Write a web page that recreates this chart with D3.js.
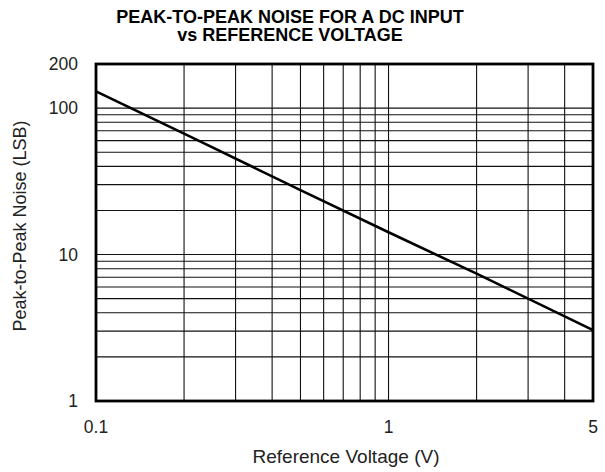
<!DOCTYPE html>
<html>
<head>
<meta charset="utf-8">
<script src="https://cdn.jsdelivr.net/npm/d3@7"></script>
<style>
  body { margin: 0; background: #fff; }
  text { font-family: "Liberation Sans", Arial, sans-serif; fill: #222; }
</style>
</head>
<body>
<div id="chart"></div>
<script>
// data
var voltage = [0.1, 0.2, 0.5, 1, 2, 5];
var noise = [130, 67, 27.5, 14.2, 7.4, 3.05];
var xTicks = [0.1, 1, 5];
var yTicks = [1, 10, 100, 200];
var xGrid = [0.2, 0.3, 0.4, 0.5, 0.6, 0.7, 0.8, 0.9, 1, 2, 3, 4];
var yGrid = [2, 3, 4, 5, 6, 7, 8, 9, 10, 20, 30, 40, 50, 60, 70, 80, 90, 100];

var svgWidth = 605;
var svgHeight = 472;
var margin = { top: 64, right: 12, bottom: 71, left: 96 };
var width = svgWidth - margin.left - margin.right;
var height = svgHeight - margin.top - margin.bottom;

var svg = d3.select("#chart").append("svg")
  .attr("width", svgWidth)
  .attr("height", svgHeight);

var chartGroup = svg.append("g")
  .attr("transform", `translate(${margin.left}, ${margin.top})`);

var x = d3.scaleLog().domain([0.1, 5]).range([0, width]);
var y = d3.scaleLog().domain([1, 200]).range([height, 0]);

// grid
chartGroup.selectAll(".vgrid").data(xGrid).enter().append("line")
  .attr("x1", d => x(d)).attr("x2", d => x(d))
  .attr("y1", 0).attr("y2", height)
  .attr("stroke", "#111").attr("stroke-width", 1.1);

chartGroup.selectAll(".hgrid").data(yGrid).enter().append("line")
  .attr("y1", d => y(d)).attr("y2", d => y(d))
  .attr("x1", 0).attr("x2", width)
  .attr("stroke", "#111").attr("stroke-width", 1.1);

// frame
chartGroup.append("rect")
  .attr("width", width).attr("height", height)
  .attr("fill", "none").attr("stroke", "#000").attr("stroke-width", 2.8);

// curve
var line = d3.line().x((d, i) => x(voltage[i])).y(d => y(d));
chartGroup.append("path")
  .datum(noise)
  .attr("d", line)
  .attr("fill", "none")
  .attr("stroke", "#000")
  .attr("stroke-width", 2.6);

// tick labels
chartGroup.selectAll(".xt").data(xTicks).enter().append("text")
  .attr("x", d => x(d)).attr("y", height + 32)
  .attr("text-anchor", "middle")
  .style("font-size", "17.5px")
  .text(d => d);

chartGroup.selectAll(".yt").data(yTicks).enter().append("text")
  .attr("x", -18).attr("y", d => y(d) + 6)
  .attr("text-anchor", "end")
  .style("font-size", "17.5px")
  .text(d => d);

// titles
svg.append("text")
  .attr("x", 290).attr("y", 23)
  .attr("text-anchor", "middle")
  .style("font-size", "18px").style("font-weight", "bold").style("fill", "#000")
  .text("PEAK-TO-PEAK NOISE FOR A DC INPUT");
svg.append("text")
  .attr("x", 290).attr("y", 41)
  .attr("text-anchor", "middle")
  .style("font-size", "18px").style("font-weight", "bold").style("fill", "#000")
  .text("vs REFERENCE VOLTAGE");

svg.append("text")
  .attr("x", 346).attr("y", 463)
  .attr("text-anchor", "middle")
  .style("font-size", "19px")
  .text("Reference Voltage (V)");

svg.append("text")
  .attr("transform", "translate(26, 226) rotate(-90)")
  .attr("text-anchor", "middle")
  .style("font-size", "18px")
  .text("Peak-to-Peak Noise (LSB)");
</script>
</body>
</html>
